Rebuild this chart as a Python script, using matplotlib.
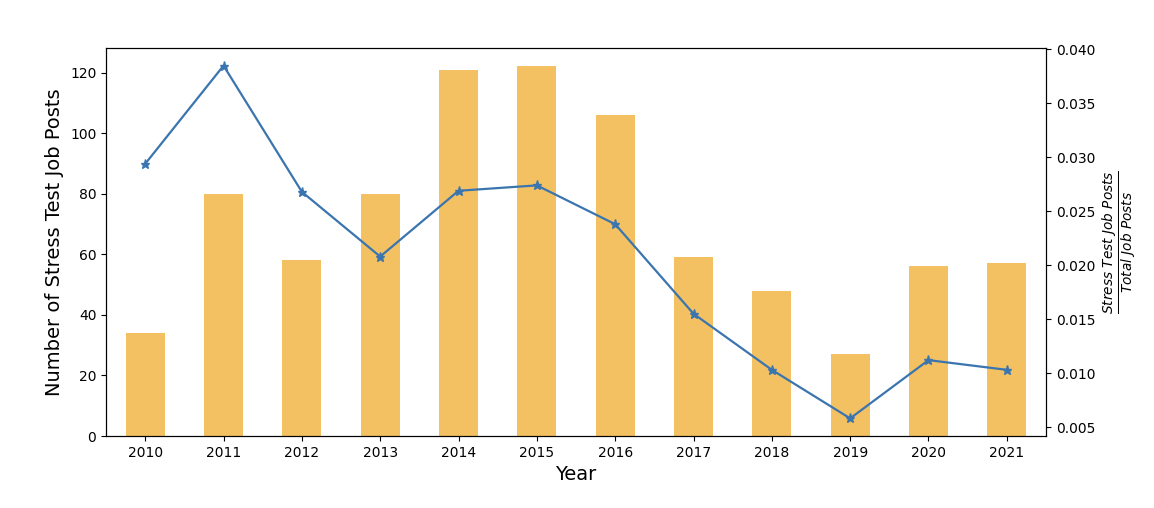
import numpy as np
import matplotlib
matplotlib.use('Agg')
import matplotlib.pyplot as plt

years = [2010, 2011, 2012, 2013, 2014, 2015, 2016, 2017, 2018, 2019, 2020, 2021]
stress_posts = [34, 80, 58, 80, 121, 122, 106, 59, 48, 27, 56, 57]
stress_ratio = [0.0294, 0.0385, 0.0268, 0.0208, 0.0269, 0.0274, 0.0238,
                0.0155, 0.0103, 0.0058, 0.0112, 0.0103]

fig = plt.figure(figsize=(11.54, 5.08), dpi=100)
ax = fig.add_axes([0.0919, 0.1417, 0.8145, 0.7638])

x = np.arange(len(years))
ax.bar(x, stress_posts, width=0.5, color='#f3c162')
ax.set_xlim(-0.5, len(years) - 0.5)
ax.set_ylim(0, 128.1)
ax.set_xticks(x)
ax.set_xticklabels([str(y) for y in years])
ax.set_xlabel('Year', fontsize=14)
ax.set_ylabel('Number of Stress Test Job Posts', fontsize=14)

ax2 = ax.twinx()
ax2.plot(x, stress_ratio, '-*', color='#3b75af', linewidth=1.6, markersize=6.5)
ax2.set_ylabel(r'$\frac{Stress\ Test\ Job\ Posts}{Total\ Job\ Posts}$', fontsize=14)

fig.savefig('out.png', dpi=100)
